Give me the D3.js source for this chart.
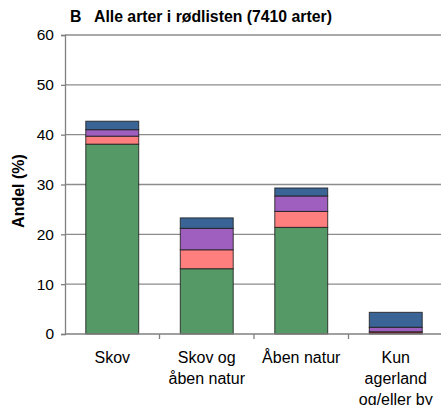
<!DOCTYPE html>
<html><head><meta charset="utf-8">
<script src="https://cdn.jsdelivr.net/npm/d3@7"></script>
<style>body{margin:0;background:#fff}svg{display:block;font-family:"Liberation Sans",Arial,sans-serif}</style>
</head><body><svg id="c" width="441" height="405"></svg>
<script>
const categories = [["Skov"], ["Skov og", "åben natur"], ["Åben natur"], ["Kun", "agerland", "og/eller by"]];
const green = [38.1, 13.1, 21.4, 0];
const darkred = [0, 0, 0, 0.45];
const pink = [1.6, 3.8, 3.2, 0];
const purple = [1.3, 4.3, 3.1, 0.9];
const blue = [1.7, 2.1, 1.6, 3.0];
const yTicks = [0, 10, 20, 30, 40, 50, 60];
const title = "B   Alle arter i rødlisten (7410 arter)";
const yTitle = "Andel (%)";

const colors = ["#559966", "#7f2f35", "#ff7f7f", "#9e5fbe", "#3a6496"];
const seriesData = [green, darkred, pink, purple, blue];

const svg = d3.select("#c");
const x = d3.scaleBand().domain(d3.range(categories.length)).range([65, 443]).paddingInner(0.44).paddingOuter(0.22);
const y = d3.scaleLinear().domain([0, 60]).range([334, 35]);

// gridlines
svg.append("g").selectAll("line").data(yTicks.filter(t => t > 0)).join("line")
  .attr("x1", 65).attr("x2", 441).attr("y1", d => y(d)).attr("y2", d => y(d))
  .attr("stroke", "#8c8c8c").attr("stroke-width", 1.3);

// stacked bars
const rows = categories.map((c, i) => {
  const o = {i};
  seriesData.forEach((s, k) => o["k" + k] = s[i]);
  return o;
});
const stack = d3.stack().keys(seriesData.map((s, k) => "k" + k))(rows);
stack.forEach((layer, k) => {
  svg.append("g").selectAll("rect").data(layer.filter(d => d[1] - d[0] > 0)).join("rect")
    .attr("x", d => x(d.data.i)).attr("width", x.bandwidth())
    .attr("y", d => y(d[1])).attr("height", d => y(d[0]) - y(d[1]))
    .attr("fill", colors[k]).attr("stroke", "#1e1e1e").attr("stroke-width", 1).attr("stroke-opacity", 0.85);
});

// y axis
const ya = svg.append("g").attr("transform", "translate(65,0)")
  .call(d3.axisLeft(y).tickValues(yTicks).tickSize(4).tickPadding(7));
ya.select(".domain").attr("stroke", "#808080").attr("stroke-width", 1.3);
ya.selectAll(".tick line").attr("stroke", "#808080").attr("stroke-width", 1.3);
ya.selectAll(".tick text").attr("font-size", 15.5).attr("fill", "#000").attr("font-family", "Liberation Sans, Arial, sans-serif");

// x axis
const xa = svg.append("g").attr("transform", "translate(0,334)");
xa.append("line").attr("x1", 65).attr("x2", 441).attr("stroke", "#808080").attr("stroke-width", 1.3);
const bounds = d3.range(categories.length + 1).map(i => 65 + i * x.step());
xa.selectAll(".tk").data(bounds.slice(1)).join("line").attr("class", "tk")
  .attr("x1", d => d).attr("x2", d => d).attr("y1", 0).attr("y2", 5)
  .attr("stroke", "#808080").attr("stroke-width", 1.3);
const labels = svg.append("g").selectAll("text").data(categories).join("text")
  .attr("text-anchor", "middle").attr("font-size", 16).attr("fill", "#000")
  .attr("transform", (d, i) => `translate(${x(i) + x.bandwidth() / 2},363)`);
labels.selectAll("tspan").data(d => d).join("tspan")
  .attr("x", 0).attr("dy", (d, j) => j === 0 ? 0 : 21).text(d => d);

// titles
svg.append("text").attr("x", 70).attr("y", 22).attr("font-size", 15.8).attr("font-weight", "bold").attr("xml:space", "preserve").text(title);
svg.append("text").attr("transform", "translate(24,191) rotate(-90)").attr("text-anchor", "middle")
  .attr("font-size", 16).attr("font-weight", "bold").text(yTitle);
</script></body></html>
